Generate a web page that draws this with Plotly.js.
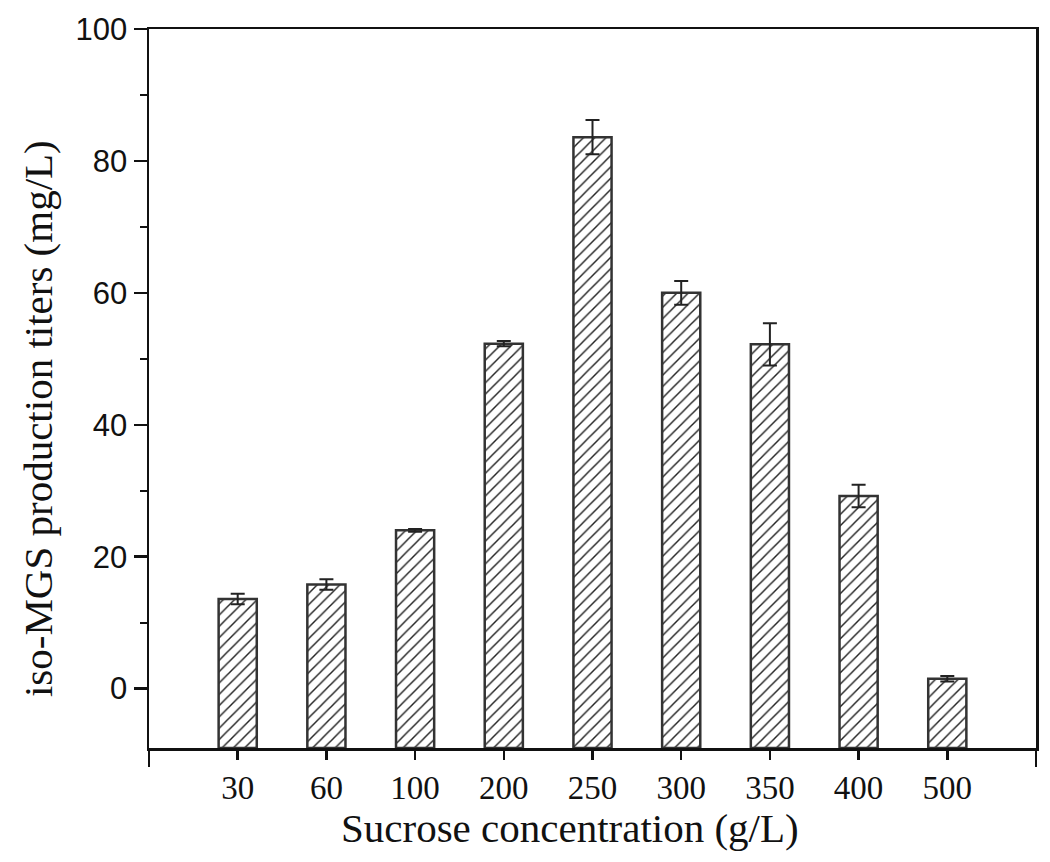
<!DOCTYPE html>
<html>
<head>
<meta charset="utf-8">
<script src="https://cdn.plot.ly/plotly-3.0.1.min.js"></script>
<style>html,body{margin:0;padding:0;background:#fff;}#chart{width:1050px;height:862px;}</style>
</head>
<body>
<div id="chart"></div>
<script>
const categories = ["30", "60", "100", "200", "250", "300", "350", "400", "500"];
const titers = [13.6, 15.8, 24.0, 52.3, 83.6, 60.0, 52.2, 29.2, 1.5];
const errors = [0.8, 0.8, 0.2, 0.4, 2.6, 1.8, 3.2, 1.7, 0.4];
const yTicks = [0, 20, 40, 60, 80, 100];
const yRange = [-9, 100];
const xTitle = "Sucrose concentration (g/L)";
const yTitle = "iso-MGS production titers (mg/L)";

const xIdx = categories.map((_, i) => i);
const yMin = yRange[0];

// Bars in the original are drawn up from the bottom of the frame
const trace = {
  type: "bar",
  x: xIdx,
  base: titers.map(() => yMin),
  y: titers.map(v => v - yMin),
  customdata: titers,
  hovertemplate: "%{customdata}<extra></extra>",
  width: 0.43,
  marker: {
    color: "#ffffff",
    line: {color: "#333", width: 2.5},
    pattern: {shape: "/", size: 8, solidity: 0.18, fgcolor: "#222", bgcolor: "#ffffff", fillmode: "replace"}
  },
  error_y: {type: "data", array: errors, visible: true, color: "#222", thickness: 2, width: 7}
};

const serif = "Liberation Serif, Times New Roman, serif";

const layout = {
  width: 1050,
  height: 862,
  margin: {l: 149, r: 14, t: 29, b: 114},
  paper_bgcolor: "#fff",
  plot_bgcolor: "#fff",
  showlegend: false,
  bargap: 0,
  xaxis: {
    range: [-1, 9],
    tickmode: "array",
    tickvals: xIdx,
    ticktext: categories,
    ticks: "outside",
    ticklen: 9,
    tickwidth: 2.5,
    tickcolor: "#111",
    showline: true,
    linecolor: "#111",
    linewidth: 2.5,
    mirror: true,
    showgrid: false,
    zeroline: false,
    tickfont: {family: serif, size: 33, color: "#111"},
    minor: {tickmode: "array", tickvals: [-1, 9], ticks: "outside", ticklen: 16, tickwidth: 2.5, tickcolor: "#111", showgrid: false}
  },
  yaxis: {
    range: yRange,
    tickmode: "array",
    tickvals: yTicks,
    ticks: "outside",
    ticklen: 13,
    tickwidth: 2.5,
    tickcolor: "#111",
    showline: true,
    linecolor: "#111",
    linewidth: 2.5,
    mirror: true,
    showgrid: false,
    zeroline: false,
    tickfont: {family: "Liberation Sans, Arial, sans-serif", size: 31, color: "#111"},
    minor: {dtick: 10, tick0: 10, ticks: "outside", ticklen: 7, tickwidth: 2, tickcolor: "#111", showgrid: false}
  },
  annotations: [
    {text: xTitle, xref: "paper", yref: "paper", x: 0.4746, y: -0.111, xanchor: "center", yanchor: "middle",
     showarrow: false, font: {family: serif, size: 41, color: "#111"}},
    {text: yTitle, xref: "paper", yref: "paper", x: -0.125, y: 0.4576, xanchor: "center", yanchor: "middle",
     textangle: -90, showarrow: false, font: {family: serif, size: 41, color: "#111"}}
  ]
};

Plotly.newPlot("chart", [trace], layout, {displayModeBar: false, staticPlot: true});
</script>
</body>
</html>
